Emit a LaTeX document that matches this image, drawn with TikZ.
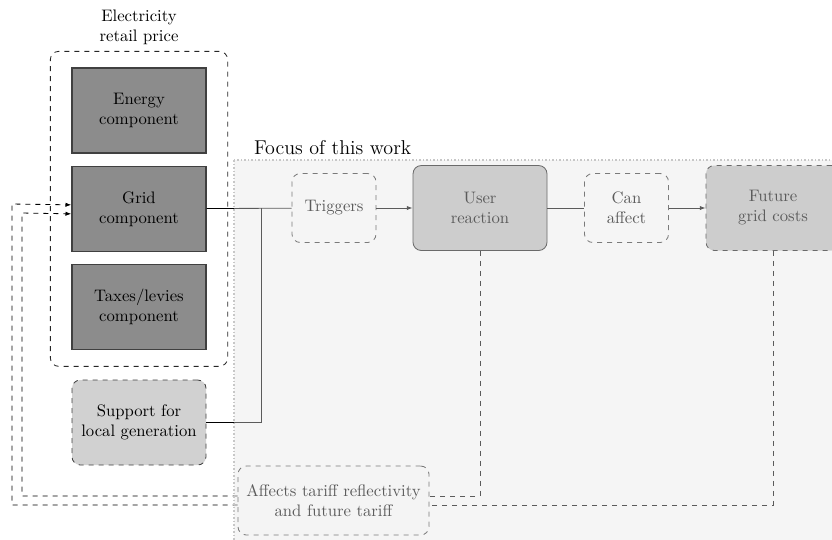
\documentclass[tikz,border=0pt]{standalone}
\usetikzlibrary{positioning,fit,arrows.meta}

\begin{document}
\begin{tikzpicture}[x=0.6pt,y=-0.6pt,line width=0.5pt,
comp/.style = {draw=black!75, line width=0.8pt, fill=black!45, minimum width=80.4pt, minimum height=51pt, align=center},
soft/.style = {draw=black!80, dashed, rounded corners=5pt, minimum width=50.4pt, minimum height=41.4pt, align=center},
react/.style = {draw=black!90, rounded corners=5pt, fill=black!26, minimum width=80.4pt, minimum height=51pt, align=center},
arr/.style = {-{Latex[length=3.5pt,width=2.6pt]}},
fb/.style = {dashed}]
\useasboundingbox (0,0) rectangle (832,539);
% retail price parts
\node[comp] (energy) at (139,110.5) {Energy\\component};
\node[comp] (grid) [below=7.2pt of energy] {Grid\\component};
\node[comp] (taxes) [below=7.2pt of grid] {Taxes/levies\\component};
\node[draw=black!85, dashed, rounded corners=5pt, fit=(energy)(taxes), inner xsep=12.6pt, inner ysep=9.6pt] (price) {};
\node[align=center] (pricelbl) [above=0pt of price] {Electricity\\retail price};
\node[soft, fill=black!18, draw=black!75, minimum width=80.4pt, minimum height=51pt] (supp) at (139,422.5) {Support for\\local generation};
% focus part
\node[soft] (trig) at (334,208) {Triggers};
\node[react] (ureact) at (480,208) {User\\reaction};
\node[soft] (canaff) at (626.5,208) {Can\\affect};
\node[react, dashed] (future) at (773,208) {Future\\grid costs};
\node[soft, fill=white, minimum width=114.6pt] (affects) at (333.5,500.5) {Affects tariff reflectivity\\and future tariff};
\coordinate (jn) at (261,208);
\draw (grid) -- (trig);
\draw (supp) -| (jn);
\draw[arr] (trig) -- (ureact);
\draw (ureact) -- (canaff);
\draw[arr] (canaff) -- (future);
% feedback
\draw[fb] (ureact) |- ([yshift=2.7pt]affects.east);
\draw[fb] (future) |- ([yshift=-2.7pt]affects.east);
\draw[fb,arr] ([yshift=2.7pt]affects.west) -| (22,213) -- ([yshift=-3pt]grid.west);
\draw[fb,arr] ([yshift=-2.7pt]affects.west) -| (12,204) -- ([yshift=2.4pt]grid.west);
% overlay
\draw[draw=black!22, line width=0.9pt, dash pattern=on 0.9pt off 1.2pt, fill=black!10, fill opacity=0.4] (234,160) rectangle (860,560);
\node[anchor=south west, font=\large, inner sep=1pt] (focuslbl) at (252,157) {Focus of this work};
\end{tikzpicture}
\end{document}
